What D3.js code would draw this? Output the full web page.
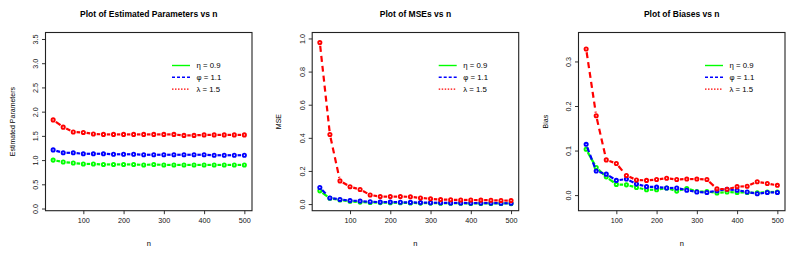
<!DOCTYPE html>
<html>
<head>
<meta charset="utf-8">
<script src="https://cdn.jsdelivr.net/npm/d3@7"></script>
<style>
  body { margin: 0; background: #fff; }
  text { font-family: "Liberation Sans", Arial, sans-serif; }
</style>
</head>
<body>
<div id="chart"></div>
<script>
// sample sizes
const nValues = [25, 50, 75, 100, 125, 150, 175, 200, 225, 250, 275, 300, 325, 350, 375, 400, 425, 450, 475, 500];
const xTicks = [100, 200, 300, 400, 500];

// estimated parameters
const estEta = [1.00, 0.96, 0.94, 0.92, 0.92, 0.91, 0.91, 0.91, 0.91, 0.90, 0.91, 0.90, 0.90, 0.90, 0.90, 0.90, 0.90, 0.90, 0.90, 0.90];
const estPhi = [1.21, 1.15, 1.15, 1.13, 1.13, 1.13, 1.12, 1.12, 1.12, 1.11, 1.11, 1.11, 1.11, 1.11, 1.11, 1.11, 1.10, 1.10, 1.10, 1.10];
const estLambda = [1.83, 1.68, 1.58, 1.57, 1.54, 1.53, 1.53, 1.53, 1.53, 1.53, 1.53, 1.53, 1.53, 1.51, 1.51, 1.52, 1.52, 1.52, 1.52, 1.52];
const estTicks = [0, 0.5, 1, 1.5, 2, 2.5, 3, 3.5];

// MSEs
const mseEta = [0.080, 0.035, 0.025, 0.017, 0.012, 0.010, 0.009, 0.008, 0.008, 0.007, 0.006, 0.006, 0.005, 0.005, 0.005, 0.004, 0.004, 0.004, 0.004, 0.003];
const msePhi = [0.100, 0.037, 0.028, 0.021, 0.018, 0.014, 0.012, 0.012, 0.011, 0.010, 0.009, 0.008, 0.008, 0.007, 0.007, 0.006, 0.006, 0.006, 0.005, 0.005];
const mseLambda = [0.975, 0.420, 0.140, 0.105, 0.088, 0.055, 0.045, 0.045, 0.045, 0.044, 0.037, 0.032, 0.027, 0.026, 0.025, 0.025, 0.024, 0.023, 0.022, 0.021];
const mseTicks = [0, 0.2, 0.4, 0.6, 0.8, 1.0];

// biases
const biasEta = [0.103, 0.062, 0.041, 0.024, 0.023, 0.017, 0.012, 0.012, 0.016, 0.009, 0.015, 0.008, 0.008, 0.005, 0.007, 0.006, 0.006, 0.005, 0.007, 0.007];
const biasPhi = [0.114, 0.054, 0.047, 0.033, 0.036, 0.025, 0.019, 0.018, 0.016, 0.016, 0.011, 0.007, 0.006, 0.010, 0.013, 0.011, 0.007, 0.003, 0.006, 0.006];
const biasLambda = [0.328, 0.178, 0.079, 0.071, 0.044, 0.034, 0.033, 0.035, 0.038, 0.035, 0.036, 0.036, 0.035, 0.014, 0.013, 0.019, 0.020, 0.030, 0.026, 0.022];
const biasTicks = [0, 0.1, 0.2, 0.3];

const legendLabels = ["η = 0.9", "φ = 1.1", "λ = 1.5"];
const colors = ["#00ff00", "#0000ff", "#ff0000"];
const lineDash = [null, "5,3", "6,4"];
const legendDash = [null, "3,2", "1.5,1.5"];

const panels = [
    { left: 45.5, title: "Plot of Estimated Parameters vs n", ylab: "Estimated Parameters",
      yDomain: [-0.045, 3.634], yTicks: estTicks, series: [estEta, estPhi, estLambda] },
    { left: 312.2, title: "Plot of MSEs vs n", ylab: "MSE",
      yDomain: [-0.04, 1.036], yTicks: mseTicks, series: [mseEta, msePhi, mseLambda] },
    { left: 578.5, title: "Plot of Biases vs n", ylab: "Bias",
      yDomain: [-0.035, 0.365], yTicks: biasTicks, series: [biasEta, biasPhi, biasLambda] }
];

const width = 794;
const height = 254;
const boxW = 206.5;
const plotTop = 32.5;
const plotBottom = 210.7;
const gap = 3.3;

const svg = d3.select("#chart")
    .append("svg")
    .attr("width", width)
    .attr("height", height);

panels.forEach(p => {
    const x = d3.scaleLinear().domain([6, 519]).range([p.left, p.left + boxW]);
    const y = d3.scaleLinear().domain(p.yDomain).range([plotBottom, plotTop]);
    const g = svg.append("g");

    // x axis
    const xAxis = g.append("g")
        .attr("transform", `translate(0, ${plotBottom})`)
        .call(d3.axisBottom(x).tickValues(xTicks).tickSize(3.5).tickPadding(4));
    xAxis.select(".domain").remove();
    xAxis.selectAll("text").attr("font-size", 7.2).attr("fill", "#111")
        .attr("font-family", "Liberation Sans, Arial, sans-serif");
    xAxis.selectAll("line").attr("stroke", "#333");

    // y axis
    const yAxis = g.append("g")
        .attr("transform", `translate(${p.left}, 0)`)
        .call(d3.axisLeft(y).tickValues(p.yTicks).tickSize(3.5).tickFormat(d3.format(".1f")));
    yAxis.select(".domain").remove();
    yAxis.selectAll("line").attr("stroke", "#333");
    yAxis.selectAll("text")
        .attr("font-size", 7.2).attr("fill", "#111")
        .attr("font-family", "Liberation Sans, Arial, sans-serif")
        .attr("text-anchor", "middle")
        .attr("dy", null)
        .attr("x", null)
        .attr("transform", "translate(-10, 0) rotate(-90)")
        .attr("dominant-baseline", "central");

    // box
    g.append("rect")
        .attr("x", p.left).attr("y", plotTop)
        .attr("width", boxW).attr("height", plotBottom - plotTop)
        .attr("fill", "none").attr("stroke", "#222").attr("stroke-width", 1.1);

    // title and labels
    g.append("text")
        .attr("x", p.left + boxW / 2).attr("y", 17)
        .attr("text-anchor", "middle")
        .attr("font-size", 8.5).attr("font-weight", "bold")
        .text(p.title);

    g.append("text")
        .attr("x", p.left + boxW / 2).attr("y", 245.5)
        .attr("text-anchor", "middle")
        .attr("font-size", 7.5)
        .text("n");

    g.append("text")
        .attr("transform", `translate(${p.left - 31}, ${(plotTop + plotBottom) / 2}) rotate(-90)`)
        .attr("text-anchor", "middle")
        .attr("font-size", 7)
        .text(p.ylab);

    // series, type "b": points joined by gapped segments
    p.series.forEach((vals, si) => {
        const pts = vals.map((v, i) => [x(nValues[i]), y(v)]);
        const segs = [];
        for (let i = 0; i < pts.length - 1; i++) {
            const [x1, y1] = pts[i];
            const [x2, y2] = pts[i + 1];
            const len = Math.hypot(x2 - x1, y2 - y1);
            if (len > 2 * gap) {
                const ux = (x2 - x1) / len, uy = (y2 - y1) / len;
                segs.push([x1 + ux * gap, y1 + uy * gap, x2 - ux * gap, y2 - uy * gap]);
            }
        }
        g.append("g").selectAll("line")
            .data(segs)
            .join("line")
            .attr("x1", d => d[0]).attr("y1", d => d[1])
            .attr("x2", d => d[2]).attr("y2", d => d[3])
            .attr("stroke", colors[si])
            .attr("stroke-width", 2.2)
            .attr("stroke-dasharray", lineDash[si]);

        g.append("g").selectAll("circle")
            .data(pts)
            .join("circle")
            .attr("cx", d => d[0]).attr("cy", d => d[1])
            .attr("r", 1.6)
            .attr("fill", "#fff")
            .attr("stroke", colors[si])
            .attr("stroke-width", 1.9);
    });

    // legend
    const lg = g.append("g")
        .attr("transform", `translate(${p.left + 126.5}, ${plotTop + 33})`);
    legendLabels.forEach((lab, i) => {
        lg.append("line")
            .attr("x1", 0).attr("x2", 18)
            .attr("y1", i * 11.8).attr("y2", i * 11.8)
            .attr("stroke", colors[i])
            .attr("stroke-width", 1.4)
            .attr("stroke-dasharray", legendDash[i]);
        lg.append("text")
            .attr("x", 24.5).attr("y", i * 11.8)
            .attr("dominant-baseline", "central")
            .attr("font-size", 7.8)
            .text(lab);
    });
});
</script>
</body>
</html>
